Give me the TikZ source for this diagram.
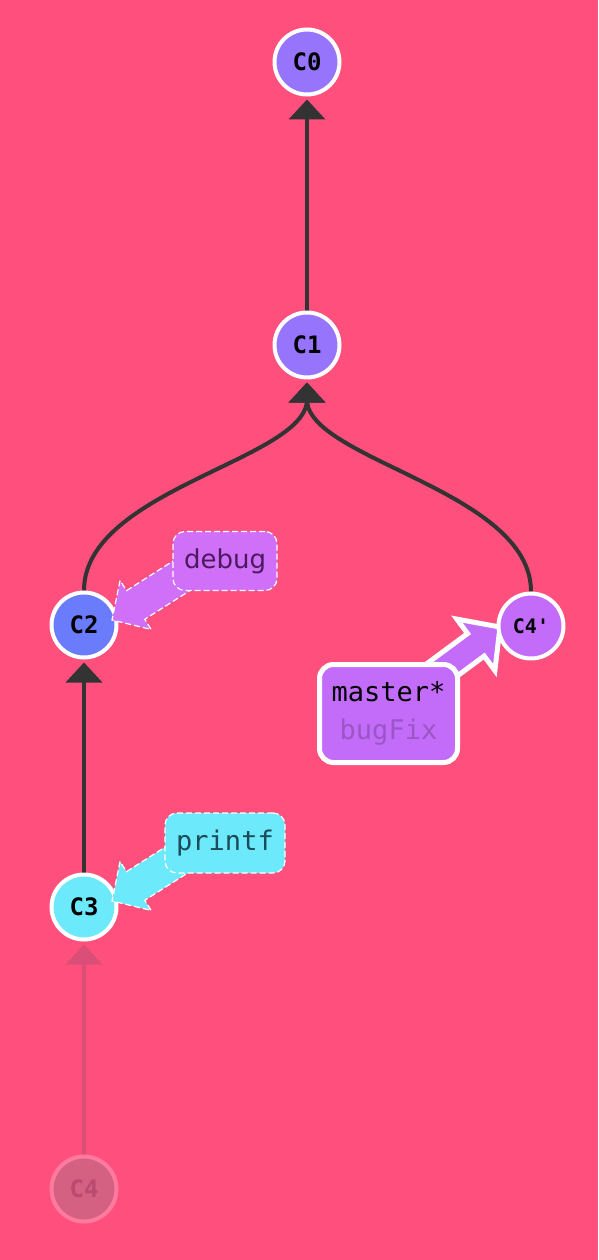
\documentclass[tikz,border=0pt]{standalone}
\usepackage{fontspec}
\setmonofont{DejaVu Sans Mono}
\setsansfont{DejaVu Sans}
\usetikzlibrary{arrows.meta,calc}
\pgfdeclarelayer{bglayer}
\pgfdeclarelayer{backlayer}
\pgfsetlayers{bglayer,backlayer,main}
\definecolor{bgpink}{HTML}{FF4F7C}
\definecolor{cpurple}{HTML}{9674FC}
\definecolor{cblue}{HTML}{6A7CFC}
\definecolor{ccyan}{HTML}{6CEAFB}
\definecolor{cviolet}{HTML}{C46CFA}
\definecolor{cdebug}{HTML}{D06FF8}
\definecolor{debugtext}{HTML}{4A1A60}
\definecolor{printftext}{HTML}{1C4A57}
\definecolor{bugfixtext}{HTML}{9B55C6}
\definecolor{edgegray}{HTML}{333333}
\definecolor{fadefill}{HTML}{D46082}
\definecolor{fadeborder}{HTML}{FF7A9E}
\definecolor{fadetext}{HTML}{B94A70}
\definecolor{fadeline}{HTML}{DA4F78}
\newcommand{\ptrarrow}[6]{%
  \coordinate (ptrH) at ($(#2)!#4!(#3)$);
  \path[#1] ($(#3)!#6!90:(#2)$) -- ($(ptrH)!#6!90:(#2)$) -- ($(ptrH)!#5!90:(#2)$)
    -- (#2) -- ($(ptrH)!#5!-90:(#2)$) -- ($(ptrH)!#6!-90:(#2)$)
    -- ($(#3)!#6!-90:(#2)$) -- cycle;}
\begin{document}
\begin{tikzpicture}[x=1pt,y=-1pt,
  commit/.style={circle, draw=white, line width=4pt, minimum size=65pt, inner sep=0pt,
    font=\ttfamily\bfseries\fontsize{24}{24}\selectfont},
  edge/.style={draw=edgegray, line width=4pt, -{Triangle[length=20pt,width=36pt]}, shorten >=3pt},
  fadeedge/.style={draw=fadeline, line width=4pt, -{Triangle[length=20pt,width=36pt]}, shorten >=3pt},
  dashborder/.style={draw=white, line width=1.2pt, dash pattern=on 6pt off 3pt},
  debugarrow/.style={fill=cdebug, dashborder},
  printfarrow/.style={fill=ccyan, dashborder},
  masterarrow/.style={fill=cviolet, draw=white, line width=5pt},
  labelbox/.style={rounded corners=12pt, inner sep=0pt}
]
\useasboundingbox (0,0) rectangle (598,1260);
\begin{pgfonlayer}{bglayer}
  \fill[bgpink] (0,0) rectangle (598,1260);
\end{pgfonlayer}

% commits
\node[commit, fill=cpurple] (C0) at (307,62) {C0};
\node[commit, fill=cpurple] (C1) at (307,345) {C1};
\node[commit, fill=cblue] (C2) at (84,625) {C2};
\node[commit, fill=cviolet, font=\ttfamily\bfseries\fontsize{20}{20}\selectfont] (C4p) at (531,626) {C4'};
\node[commit, fill=ccyan] (C3) at (84,907) {C3};
\node[commit, fill=fadefill, draw=fadeborder, text=fadetext] (C4) at (84,1189) {C4};

% edges
\begin{pgfonlayer}{backlayer}
  \draw[edge] (C1) -- (C0);
  \draw[edge] (C2.north) .. controls +(0,-101) and +(0,60) .. ($(C1.south)+(0,20)$) -- (C1.south);
  \draw[edge] (C4p.north) .. controls +(0,-101) and +(0,60) .. ($(C1.south)+(0,20)$) -- (C1.south);
  \draw[edge] (C3) -- (C2);
  \draw[fadeedge] (C4) -- (C3);
  \coordinate (mTip) at (500,627);
  \coordinate (mTail) at (385,712);
  \ptrarrow{masterarrow}{mTip}{mTail}{30pt}{32pt}{14pt}
\end{pgfonlayer}

% branch pointers
\coordinate (dTip) at (112,620);
\coordinate (dTail) at (222,550);
\ptrarrow{debugarrow}{dTip}{dTail}{28pt}{29pt}{17pt}
\coordinate (pTip) at (112,901);
\coordinate (pTail) at (222,831);
\ptrarrow{printfarrow}{pTip}{pTail}{28pt}{29pt}{17pt}

\node[labelbox, dashborder, fill=cdebug, minimum width=104pt, minimum height=59pt,
  text=debugtext, font=\sffamily\fontsize{26}{26}\selectfont] (debug) at (225,561) {debug};
\node[labelbox, dashborder, fill=ccyan, minimum width=120pt, minimum height=60pt,
  text=printftext, font=\ttfamily\fontsize{27}{27}\selectfont] (printf) at (225,843) {printf};
\node[labelbox, rounded corners=14pt, draw=white, line width=5pt, fill=cviolet,
  minimum width=138pt, minimum height=98pt, align=center,
  font=\ttfamily\fontsize{27}{38}\selectfont] (master) at (388.5,713.5)
  {master*\\\textcolor{bugfixtext}{bugFix}};
\end{tikzpicture}
\end{document}
